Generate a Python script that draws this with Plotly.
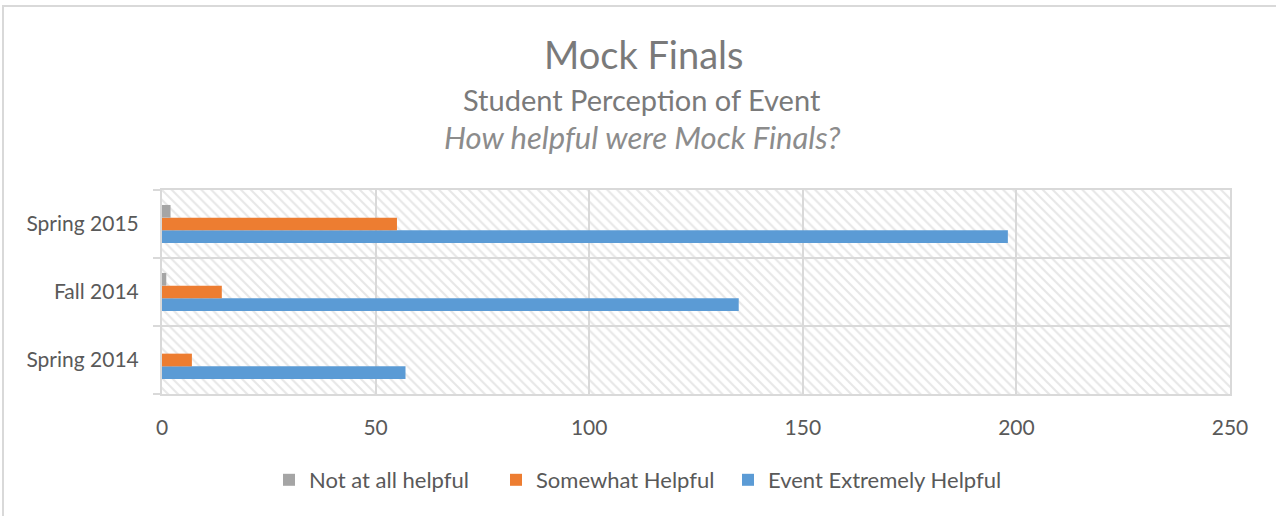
import plotly.graph_objects as go

# data
terms = ["Spring 2014", "Fall 2014", "Spring 2015"]
not_helpful = [0, 1, 2]
somewhat_helpful = [7, 14, 55]
extremely_helpful = [57, 135, 198]
x_ticks = [0, 50, 100, 150, 200, 250]

W, H = 1276, 516
L, R, T, B = 162, 1230, 190, 394


def px_x(p):
    # window pixel -> paper x
    return (p - L) / (R - L)


def px_y(p):
    return (B - p) / (B - T)


font = "Lato, 'Open Sans', sans-serif"
text_grey = "#595959"
title_grey = "#7a7a7a"
grid_grey = "#d9d9d9"
ypos = list(range(len(terms)))

fig = go.Figure()

# hatched plot-area background (own subplot underneath the bars)
fig.add_trace(go.Scatter(
    x=[0, 1, 1, 0, 0], y=[0, 0, 1, 1, 0],
    fill="toself", mode="none",
    fillpattern=dict(shape="\\", fgcolor="#cfcfcf", bgcolor="white", size=7, solidity=0.3),
    hoverinfo="skip", showlegend=False,
    xaxis="x", yaxis="y",
))

# one legend per series so each entry sits where Excel put it
series = [
    ("Event Extremely Helpful", extremely_helpful, "#5b9bd5", "legend3"),
    ("Somewhat Helpful", somewhat_helpful, "#ed7d31", "legend2"),
    ("Not at all helpful", not_helpful, "#a5a5a5", "legend"),
]
for name, vals, col, leg in series:
    fig.add_trace(go.Bar(
        x=vals, y=ypos, orientation="h", name=name,
        marker=dict(color=col, line=dict(width=0)),
        xaxis="x2", yaxis="y2", legend=leg,
    ))

legend_style = dict(orientation="h", xanchor="left", yanchor="middle", y=px_y(480),
                    font=dict(size=22, color=text_grey), bgcolor="rgba(0,0,0,0)")

fig.update_layout(
    width=W, height=H,
    margin=dict(l=L, r=W - R, t=T, b=H - B),
    paper_bgcolor="white", plot_bgcolor="rgba(0,0,0,0)",
    font=dict(family=font, color=text_grey, size=21),
    barmode="group", bargap=0.44, bargroupgap=0,
    xaxis=dict(domain=[0, 1], range=[0, 1], visible=False, fixedrange=True),
    yaxis=dict(domain=[0, 1], range=[0, 1], visible=False, fixedrange=True),
    xaxis2=dict(
        domain=[0, 1], anchor="y2", range=[0, 250], tickvals=x_ticks,
        showgrid=True, gridcolor=grid_grey, gridwidth=2, zeroline=False,
        showline=True, linecolor=grid_grey, linewidth=2, mirror=True,
        ticks="", ticklabelstandoff=14,
        tickfont=dict(size=21, color=text_grey),
    ),
    yaxis2=dict(
        domain=[0, 1], anchor="x2", range=[-0.5, len(terms) - 0.5],
        tickvals=ypos, ticktext=terms, showgrid=False, zeroline=False,
        showline=True, linecolor=grid_grey, linewidth=2, mirror=True,
        ticks="", ticklabelstandoff=17,
        tickfont=dict(size=21, color=text_grey),
        minor=dict(tickvals=[i - 0.5 for i in range(len(terms) + 1)],
                   showgrid=True, gridcolor=grid_grey, gridwidth=2,
                   ticks="outside", ticklen=7, tickcolor=grid_grey, tickwidth=2),
    ),
    legend=dict(legend_style, x=px_x(269)),
    legend2=dict(legend_style, x=px_x(496)),
    legend3=dict(legend_style, x=px_x(728)),
    showlegend=True,
)

fig.add_annotation(text="Mock Finals", x=px_x(643), y=px_y(54), xref="paper", yref="paper",
                   showarrow=False, xanchor="center", yanchor="middle",
                   font=dict(size=38, color=title_grey, family=font))
fig.add_annotation(text="Student Perception of Event", x=px_x(642), y=px_y(99), xref="paper", yref="paper",
                   showarrow=False, xanchor="center", yanchor="middle",
                   font=dict(size=29, color=title_grey, family=font))
fig.add_annotation(text="<i>How helpful were Mock Finals?</i>", x=px_x(642), y=px_y(137), xref="paper", yref="paper",
                   showarrow=False, xanchor="center", yanchor="middle",
                   font=dict(size=31, color="#8c8c8c", family=font))

# chart frame
fig.add_shape(type="rect", xref="paper", yref="paper",
              x0=px_x(3), x1=px_x(1290), y0=px_y(6), y1=px_y(530),
              line=dict(color=grid_grey, width=2), fillcolor="rgba(0,0,0,0)", layer="below")

# drop the default body margin so the figure fills the window from 0,0
fig.write_html("out.html", config={"displayModeBar": False},
               post_script="document.body.style.margin='0';")
